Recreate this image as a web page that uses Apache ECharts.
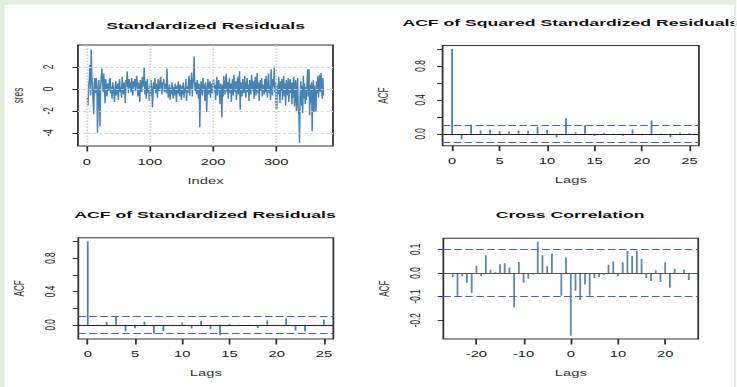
<!DOCTYPE html>
<html><head><meta charset="utf-8">
<script src="https://cdn.jsdelivr.net/npm/echarts@6/dist/echarts.min.js"></script>
<style>
html,body{margin:0;padding:0;background:#fff;overflow:hidden;width:737px;height:387px}
#c{width:409.444px;height:387px;transform:scaleX(1.8);transform-origin:0 0}
</style></head><body><div id="c"></div>
<script>
// ---- data ----
const residuals = [
 -0.8,-1.5,0.4,0.9,2.2,-0.6,3.6,1.2,0.3,-1.1,-2.3,0.6,1.0,-0.4,1.0,0.2,-4.0,-1.2,0.8,-0.5,-3.4,0.4,1.2,1.85,0.6,
 -0.3,1.4,0.2,-1.3,0.9,0.1,-0.7,0.5,0.3,-0.2,0.8,1.0,-0.4,0.2,-0.9,0.6,0.1,-0.5,-1.2,0.3,0.7,-0.6,-0.2,0.5,-1.0,
 0.4,0.9,-0.3,0.2,-0.8,1.1,0.0,-0.5,0.6,0.3,-1.3,0.8,0.2,1.6,0.5,-0.4,0.9,0.1,0.6,-0.3,1.0,0.4,-0.6,0.7,0.2,
 0.9,-0.2,0.5,1.2,0.3,-0.7,0.6,0.1,-1.2,0.8,0.4,-0.3,1.1,0.2,0.5,2.0,-0.5,0.7,-0.9,0.3,0.9,-0.4,0.1,-1.1,0.4,
 -0.6,0.8,0.2,-1.7,-0.3,0.6,0.0,1.0,-0.4,0.5,0.2,-0.8,0.9,0.3,-0.2,0.7,1.1,0.1,-0.5,0.6,0.4,0.9,-0.3,0.2,0.5,
 -0.4,1.85,0.3,-0.8,-0.2,0.4,-1.0,0.1,-0.5,0.6,-0.3,-0.9,0.2,-0.6,0.5,0.0,-1.2,0.3,-0.4,0.7,-0.2,-0.7,0.4,-0.1,-1.0,
 0.3,-0.5,0.6,-0.8,0.1,-0.3,0.9,-1.1,0.2,-0.4,0.5,1.2,-0.6,0.8,0.0,1.5,-0.7,0.4,1.0,2.95,0.3,-0.2,0.6,-0.5,0.8,
 0.2,-0.9,0.5,-3.5,-0.4,0.7,0.1,-0.6,1.0,-0.2,0.4,-1.1,0.6,-0.3,-2.1,0.2,0.9,-0.5,0.3,0.7,-0.8,0.5,0.0,-0.4,0.6,
 0.9,-0.3,0.4,-1.0,0.2,1.1,-0.6,0.3,0.8,-0.2,-1.4,0.5,0.1,-2.6,0.4,-0.7,1.2,0.2,-0.5,0.8,1.4,-0.3,0.6,-0.9,0.3,
 1.0,-0.4,0.5,-1.2,0.2,0.9,-0.6,1.3,0.1,-0.3,0.7,-1.0,0.4,1.1,-0.5,0.2,1.6,-1.9,0.6,0.3,-0.7,0.9,0.0,-0.4,1.2,
 0.2,-0.8,0.5,1.0,-0.3,0.4,-1.1,0.8,0.1,-0.5,1.3,0.3,-0.2,0.7,-0.9,0.4,1.1,-0.6,0.2,1.45,-0.4,0.6,-1.1,0.3,0.8,
 -0.2,1.0,-0.7,0.4,0.1,-0.5,0.9,-0.3,1.2,0.2,-0.8,0.6,1.4,-0.4,0.3,-1.0,1.8,0.5,-0.6,0.9,0.2,2.05,-0.3,0.6,-1.9,
 -1.8,0.4,-0.5,1.1,0.2,-1.3,0.7,-0.2,0.9,-1.0,0.3,1.2,-0.7,0.5,-1.5,0.8,0.1,-0.6,1.0,-1.2,0.4,0.9,-0.4,0.55,-1.4,
 0.6,-0.8,1.1,-1.6,0.3,0.8,-2.0,-0.5,1.0,-1.8,-2.3,-4.9,-0.6,0.7,-1.5,0.3,-2.2,1.2,-0.9,0.5,-1.4,0.2,-1.0,0.9,1.8,
 -0.7,1.8,-2.4,0.4,-1.3,0.6,-3.85,-0.2,0.8,-2.1,0.3,-1.1,-2.1,0.7,-0.4,1.2,-0.8,0.5,1.3,-0.3,1.45,0.2,-0.9,1.0,-0.6
];
const acfLags = [0,1,2,3,4,5,6,7,8,9,10,11,12,13,14,15,16,17,18,19,20,21,22,23,24,25];
const acfSquared = [1.0,-0.063,0.106,0.04,0.047,0.035,0.027,0.04,0.035,0.082,0.047,-0.043,0.184,0.02,0.10,-0.027,0.012,0.005,-0.024,0.05,-0.016,0.157,-0.012,-0.04,0.015,0.01];
const acfResid = [1.0,0.003,0.036,0.097,-0.077,-0.04,0.04,-0.105,-0.077,-0.008,0.028,-0.045,0.048,-0.053,-0.125,0.012,-0.008,0.002,-0.04,0.052,-0.012,0.08,-0.069,-0.077,-0.016,0.06];
const ccfLags = [-25,-24,-23,-22,-21,-20,-19,-18,-17,-16,-15,-14,-13,-12,-11,-10,-9,-8,-7,-6,-5,-4,-3,-2,-1,0,1,2,3,4,5,6,7,8,9,10,11,12,13,14,15,16,17,18,19,20,21,22,23,24,25];
const ccfValues = [-0.017,-0.097,-0.014,-0.041,-0.085,0.03,-0.013,0.075,0.014,0.003,0.037,0.042,0.023,-0.146,0.046,-0.042,-0.024,-0.007,0.132,0.075,0.028,0.083,-0.003,-0.097,0.066,-0.266,-0.075,-0.115,-0.049,-0.097,-0.021,-0.017,-0.01,0.035,0.049,-0.014,0.045,0.093,0.072,0.093,0.059,-0.021,-0.034,0.011,-0.038,0.045,-0.063,0.018,-0.004,0.015,-0.03];
const ciBound = 0.101;
const resXTicks = [0,100,200,300];
const resYTicks = [-4,-2,0,2];
const acfXTicks = [0,5,10,15,20,25];
const acfYTicks = [0,0.2,0.4,0.6,0.8,1.0];
const acfYLabels = [0,0.4,0.8];
const ccfXTicks = [-20,-10,0,10,20];
const ccfYTicks = [-0.2,-0.1,0,0.1];
const titles = ['Standardized Residuals','ACF of Squared Standardized Residuals','ACF of Standardized Residuals','Cross Correlation'];

// ---- chart ----
const FONT = '"Liberation Sans", Arial, Helvetica, sans-serif';
const W0 = 409.444;
const dom = document.getElementById('c');
const chart = echarts.init(dom, null, {renderer:'svg', width: W0, height: 387});

const grids = [
  {left:43.3, top:45, width:141.7, height:101},
  {left:245.9, top:45.6, width:142.4, height:100.1},
  {left:43.5, top:237.7, width:141.7, height:101.3},
  {left:246.3, top:238.3, width:141.6, height:100.7}
].map(g => Object.assign({show:true, borderColor:'#333', borderWidth:1, backgroundColor:'#fff', containLabel:false}, g));

function xAx(gi, min, max, ticks, name, margin, gap) {
  return {type:'value', gridIndex:gi, min, max, name, nameLocation:'middle', nameGap:gap, position:'bottom',
    nameTextStyle:{fontFamily:FONT, fontSize:8.2, color:'#333'},
    axisLine:{show:false, onZero:false},
    axisTick:{show:true, length:5.5, customValues:ticks, lineStyle:{color:'#333', width:1}},
    axisLabel:{customValues:ticks, margin, fontFamily:FONT, fontSize:8.2, color:'#222', formatter: v => String(v)},
    splitLine:{show:false}};
}
function yAx(gi, min, max, ticks, labels, fmt, margin) {
  return {type:'value', gridIndex:gi, min, max, name: gi===0 ? 'sres' : 'ACF', nameLocation:'middle', nameGap:29, position:'left',
    nameTextStyle:{fontFamily:FONT, fontSize:8.2, color:'#333'},
    axisLine:{show:false, onZero:false},
    axisTick:{show:true, length:3.1, customValues:ticks, lineStyle:{color:'#333', width:1}},
    axisLabel:{customValues:labels, rotate:90, margin, fontFamily:FONT, fontSize:8.2, color:'#222', formatter: fmt},
    splitLine:{show:false}};
}
const f1 = v => v.toFixed(1);
const xAxis = [
  xAx(0, -14, 390, resXTicks, 'Index', 12, 31),
  xAx(1, -1, 26, acfXTicks, 'Lags', 12, 31),
  xAx(2, -1, 26, acfXTicks, 'Lags', 11, 30.5),
  xAx(3, -27, 27, ccfXTicks, 'Lags', 11, 30.5)
];
const yAxis = [
  yAx(0, -5.2, 4.0, resYTicks, resYTicks, v => String(v), 12.5),
  yAx(1, -0.14, 1.04, acfYTicks, acfYLabels, f1, 8.5),
  yAx(2, -0.17, 1.045, acfYTicks, acfYLabels, f1, 11.5),
  yAx(3, -0.28, 0.147, ccfYTicks, ccfYTicks, f1, 11.5)
];

const resData = residuals.map((v, i) => [i + 1, v]);
function refLines(zeroColor) {
  return {silent:true, symbol:'none', label:{show:false}, animation:false,
    data:[
      {yAxis:0, lineStyle:{color:zeroColor, width:1, type:'solid'}},
      {yAxis:ciBound, lineStyle:{color:'#4b5ccc', width:1, type:[4.2,1.9]}},
      {yAxis:-ciBound, lineStyle:{color:'#4b5ccc', width:1, type:[4.2,1.9]}}
    ]};
}
function spikes(axisIdx, lags, vals, color, zeroColor) {
  return {type:'custom', xAxisIndex:axisIdx, yAxisIndex:axisIdx, z:2,
    data: lags.map((l, i) => [l, vals[i]]),
    encode:{x:0, y:1},
    renderItem: (params, api) => {
      const p0 = api.coord([api.value(0), 0]);
      const p1 = api.coord([api.value(0), api.value(1)]);
      return {type:'line', shape:{x1:p0[0], y1:p0[1], x2:p1[0], y2:p1[1]},
        style:{stroke:color, lineWidth:1, fill:null}};
    },
    markLine: refLines(zeroColor)};
}
const series = [
  {type:'line', xAxisIndex:0, yAxisIndex:0, data:resData, showSymbol:false, z:1,
   lineStyle:{opacity:0}, silent:true,
   markLine:{silent:true, symbol:'none', label:{show:false},
     lineStyle:{color:'#d3d3d3', width:1, type:[1.5,1.5]},
     data: resXTicks.map(t => ({xAxis:t})).concat(resYTicks.map(t => ({yAxis:t})))}},
  {type:'line', xAxisIndex:0, yAxisIndex:0, data:resData, showSymbol:false, z:3,
   lineStyle:{color:'#4682b4', width:0.8}},
  spikes(1, acfLags, acfSquared, '#4a7fb3', '#222'),
  spikes(2, acfLags, acfResid, '#4a7fb3', '#222'),
  spikes(3, ccfLags, ccfValues, '#5f87a8', '#555')
];

const titlePos = [[114.2, 26],[317.1, 22.5],[113.9, 214.5],[316.7, 214.5]];
const graphic = titles.map((t, i) => ({type:'text', x:titlePos[i][0], y:titlePos[i][1], z:50,
  style:{text:t, textAlign:'center', textVerticalAlign:'middle', fill:'#111',
    font:'bold 9.8px ' + FONT}}))
.concat([
  {type:'rect', z:100, silent:true, shape:{x:0, y:0, width:W0, height:4.7}, style:{fill:'#e3ede0'}},
  {type:'rect', z:100, silent:true, shape:{x:0, y:0, width:2.6, height:387}, style:{fill:'#e3ede0'}},
  {type:'rect', z:100, silent:true, shape:{x:407.8, y:0, width:W0-407.8, height:387}, style:{fill:'#e3ede0'}}
]);

chart.setOption({animation:false, backgroundColor:'#fff', grid:grids, xAxis, yAxis, series, graphic});
</script></body></html>
